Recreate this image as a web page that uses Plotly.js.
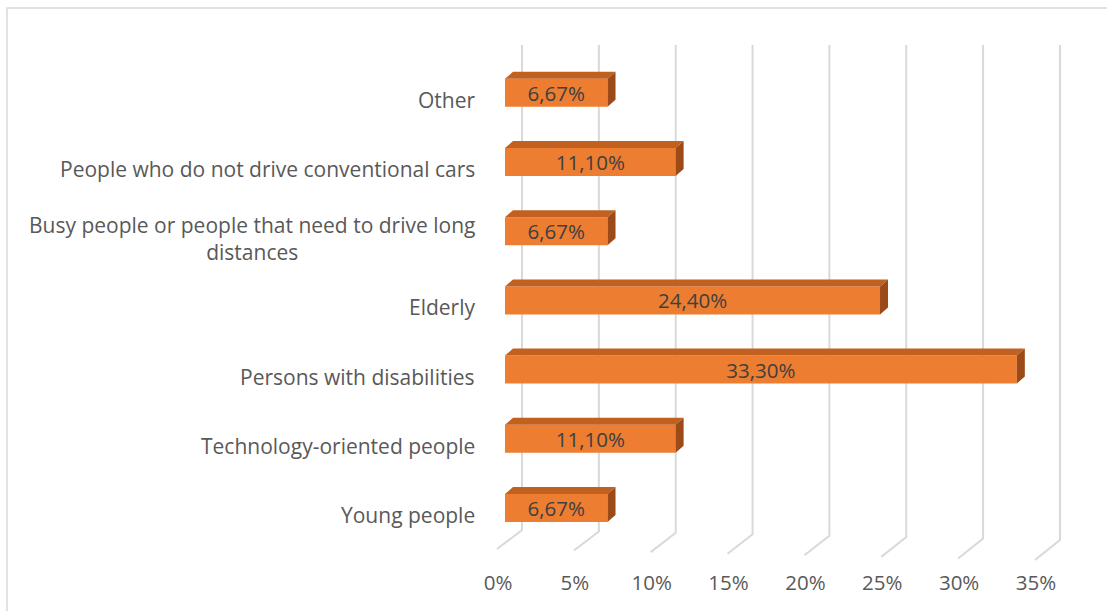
<!DOCTYPE html>
<html>
<head>
<meta charset="utf-8">
<script src="https://cdn.plot.ly/plotly-3.0.1.min.js"></script>
<style>
  html, body { margin: 0; padding: 0; background: #fff; }
  #chart { width: 1107px; height: 611px; }
</style>
</head>
<body>
<div id="chart"></div>
<script>
// ---- data (bottom to top) ----
const categories = [
  "Young people",
  "Technology-oriented people",
  "Persons with disabilities",
  "Elderly",
  "Busy people or people that need to drive long<br>distances",
  "People who do not drive conventional cars",
  "Other"
];
const values = [6.67, 11.10, 33.30, 24.40, 6.67, 11.10, 6.67];
const tickValues = [0, 5, 10, 15, 20, 25, 30, 35];
const tickLabels = ["0%", "5%", "10%", "15%", "20%", "25%", "30%", "35%"];

// ---- layout geometry ----
const W = 1107, H = 611;
const L = 480, R = 1075, T = 35, B = 565;      // plot area in px
const zeroPx = 505, pxPerUnitX = 15.37;         // front face scale
const baseCenterPx = 508, pxPerCat = 69.2;      // category centre scale
const xr = [(L - zeroPx) / pxPerUnitX, (R - zeroPx) / pxPerUnitX];
const yr = [(baseCenterPx - B) / pxPerCat, (baseCenterPx - T) / pxPerCat];
const pxToY = p => (baseCenterPx - p) / pxPerCat;
const pxToX = p => p / pxPerUnitX;

const barH = 28 / pxPerCat;
const dX = pxToX(8), dY = 7 / pxPerCat;
const idx = categories.map((c, i) => i);

const fmt = v => v.toFixed(2).replace('.', ',') + '%';
const FONT = '"Open Sans", sans-serif';

const shapes = [];
// outer border
shapes.push({
  type: 'rect', xref: 'paper', yref: 'paper',
  x0: (7 - L) / (R - L), x1: (W + 20 - L) / (R - L),
  y0: (B - (H + 20)) / (B - T), y1: (B - 8) / (B - T),
  line: { color: '#d9d9d9', width: 1.5 }, fillcolor: 'rgba(0,0,0,0)', layer: 'below'
});
// gridlines (back wall + floor diagonal)
tickValues.forEach(t => {
  const f = t / 35;
  const xb = t + pxToX(17), xf = t - pxToX(8);
  const yTop = pxToY(45), yBack = pxToY(530 + 10 * f), yFront = pxToY(549 + 11 * f);
  shapes.push({
    type: 'path', xref: 'x', yref: 'y', layer: 'below',
    path: `M ${xb},${yTop} L ${xb},${yBack} L ${xf},${yFront}`,
    line: { color: '#d9d9d9', width: 2 }
  });
});
// 3D faces of bars
values.forEach((v, i) => {
  const top = i + barH / 2, bot = i - barH / 2;
  shapes.push({
    type: 'path', xref: 'x', yref: 'y', layer: 'above',
    path: `M 0,${top} L ${v},${top} L ${v + dX},${top + dY} L ${dX},${top + dY} Z`,
    fillcolor: '#C2611F', line: { width: 0 }
  });
  shapes.push({
    type: 'path', xref: 'x', yref: 'y', layer: 'above',
    path: `M ${v},${bot} L ${v},${top} L ${v + dX},${top + dY} L ${v + dX},${bot + dY} Z`,
    fillcolor: '#9C4A18', line: { width: 0 }
  });
});

const annotations = categories.map((c, i) => ({
  xref: 'paper', yref: 'y',
  x: (477 - L) / (R - L), y: i - 7 / pxPerCat,
  xanchor: 'right', yanchor: 'middle', align: 'center',
  text: c, showarrow: false,
  font: { family: FONT, size: 21, color: '#595959' }
}));

const trace = {
  type: 'bar', orientation: 'h',
  x: values, y: idx, width: barH,
  marker: { color: '#ED7D31', line: { width: 0 } },
  text: values.map(fmt), textposition: 'inside', insidetextanchor: 'middle',
  textangle: 0, constraintext: 'none',
  textfont: { family: FONT, size: 20.5, color: '#404040' },
  hoverinfo: 'skip', cliponaxis: false
};

const layout = {
  width: W, height: H,
  margin: { l: L, r: W - R, t: T, b: H - B, pad: 0 },
  paper_bgcolor: '#ffffff', plot_bgcolor: 'rgba(0,0,0,0)',
  showlegend: false,
  xaxis: {
    range: xr, showgrid: false, zeroline: false, showline: false,
    tickmode: 'array', tickvals: tickValues, ticktext: tickLabels,
    ticks: '', ticklabelshift: -7, ticklabelstandoff: 3,
    tickfont: { family: FONT, size: 20.5, color: '#595959' },
    fixedrange: true
  },
  yaxis: {
    range: yr, showgrid: false, zeroline: false, showline: false,
    showticklabels: false, ticks: '', fixedrange: true
  },
  shapes: shapes,
  annotations: annotations
};

Plotly.newPlot('chart', [trace], layout, { displayModeBar: false, staticPlot: true });
</script>
</body>
</html>
